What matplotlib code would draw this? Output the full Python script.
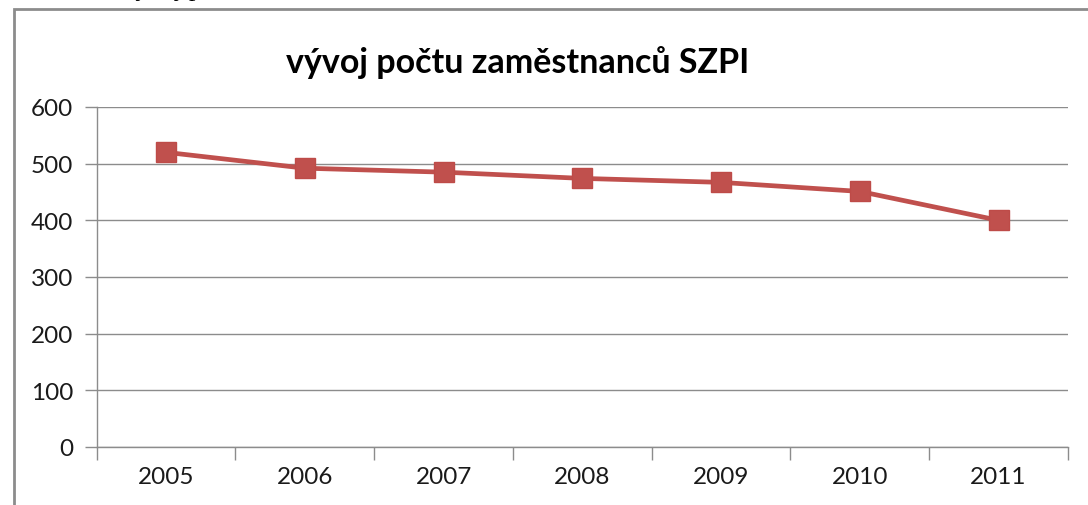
import matplotlib
matplotlib.use("Agg")
import matplotlib.pyplot as plt
from matplotlib.patches import Rectangle
import numpy as np

years = ["2005", "2006", "2007", "2008", "2009", "2010", "2011"]
employees = [520, 492, 485, 474, 467, 451, 400]
title = "vývoj počtu zaměstnanců SZPI"
yticks = [0, 100, 200, 300, 400, 500, 600]

W, H = 1088, 506
fig = plt.figure(figsize=(W / 100, H / 100), dpi=100)
fig.patch.set_facecolor("white")

# outer chart frame (partially cut off on right/bottom)
fig.patches.append(Rectangle((13.5 / W, -0.05), 1.2, 1 - 9.5 / H + 0.05,
                             transform=fig.transFigure, fill=False,
                             edgecolor="#8c8c8c", linewidth=2.0))
# cut-off document text above the chart
fig.text(122 / W, 1 + 4.0 / H, "vývoj p", family="Liberation Serif", fontsize=19,
         va="baseline", ha="left", color="black")

ax = fig.add_axes([96.7 / W, 1 - 448 / H, (1068 - 96.7) / W, (448 - 108) / H])
x = np.arange(len(years))
ax.plot(x, employees, color="#C0504D", linewidth=3.4, marker="s",
        markersize=14.5, markerfacecolor="#C0504D", markeredgecolor="#BE4B48",
        solid_joinstyle="round", zorder=3)

ax.set_xlim(-0.5, len(years) - 0.5)
ax.set_ylim(0, 600)
ax.set_yticks(yticks)
ax.set_yticklabels([str(v) for v in yticks], family="Lato", fontsize=17.5, color="#1a1a1a")
ax.set_xticks(x)
ax.set_xticklabels(years, family="Lato", fontsize=17.5, color="#1a1a1a")
ax.tick_params(axis="x", which="major", length=0, pad=14)
ax.set_xticks(np.arange(-0.5, len(years), 1.0), minor=True)
ax.tick_params(axis="x", which="minor", length=9, width=1, color="#8c8c8c", direction="out")
ax.tick_params(axis="y", length=9, width=1, color="#8c8c8c", direction="out", pad=8)

for v in yticks:
    ax.axhline(v, color="#8c8c8c", linewidth=1.0, zorder=1)

for s in ["top", "right"]:
    ax.spines[s].set_visible(False)
for s in ["left", "bottom"]:
    ax.spines[s].set_color("#8c8c8c")
    ax.spines[s].set_linewidth(1.0)

fig.text(518 / W, 1 - 63 / H, title, family="Lato", fontweight="bold",
         fontsize=24.5, ha="center", va="center")

fig.savefig("out.png", dpi=100)
